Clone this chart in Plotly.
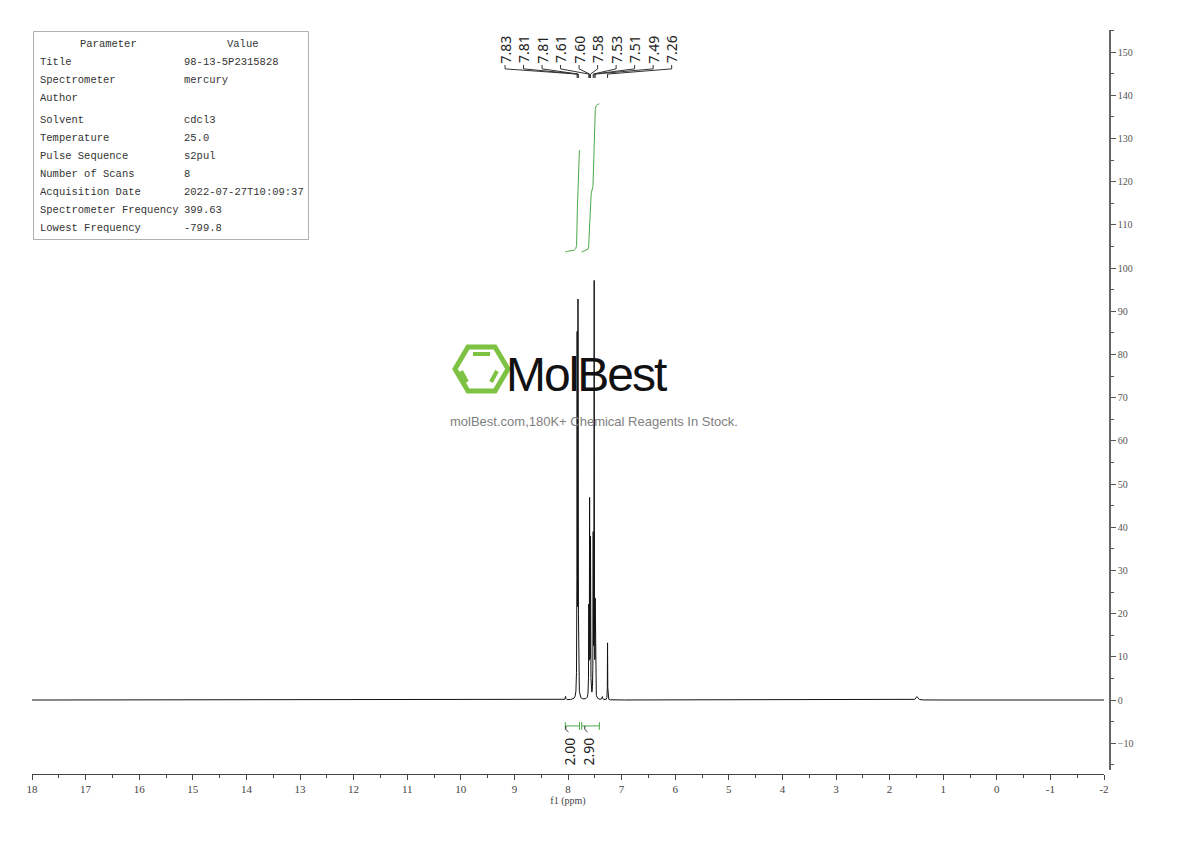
import numpy as np
import plotly.graph_objects as go

# ---------------- data ----------------
# spectrum peaks (ppm, apex height, half-width in ppm)
peak_ppm = [8.045, 7.830, 7.814, 7.808, 7.612, 7.597, 7.580, 7.530, 7.512, 7.493, 7.360, 7.262, 1.490]
peak_height = [0.8, 82.0, 86.0, 20.0, 20.0, 45.0, 36.0, 36.0, 95.5, 21.0, 0.7, 13.2, 0.8]
peak_hw = [0.006, 0.003, 0.003, 0.003, 0.003, 0.003, 0.003, 0.003, 0.003, 0.003, 0.006, 0.0025, 0.02]

# peak-pick labels and the peaks they point to
pick_labels = ["7.83", "7.81", "7.81", "7.61", "7.60", "7.58", "7.53", "7.51", "7.49", "7.26"]
pick_ppm = [7.830, 7.814, 7.808, 7.612, 7.597, 7.580, 7.530, 7.512, 7.493, 7.262]

# integrations: ranges (ppm), values, integral-curve base/top (intensity units)
int_start = [8.05, 7.745]
int_end = [7.785, 7.415]
int_values = ["2.00", "2.90"]
int_base = [103.7, 103.7]
int_top = [127.3, 138.0]

# x tick values
x_ticks = list(range(18, -3, -1))

# parameter table
param_names = ["Title", "Spectrometer", "Author", "Solvent", "Temperature", "Pulse Sequence",
               "Number of Scans", "Acquisition Date", "Spectrometer Frequency", "Lowest Frequency"]
param_values = ["98-13-5P2315828", "mercury", "", "cdcl3", "25.0", "s2pul", "8",
                "2022-07-27T10:09:37", "399.63", "-799.8"]

# ---------------- build spectrum from peak list ----------------
x = np.unique(np.concatenate([np.arange(-2.0, 18.0001, 0.005), np.arange(7.1, 8.2, 0.0004)]))[::-1]
y = np.zeros_like(x)
for p, h, w in zip(peak_ppm, peak_height, peak_hw):
    y += h / (1.0 + ((x - p) / w) ** 2)

# page offset of the plot div (body margin) compensated
OFF = 8
W, H = 1190 - OFF, 841 - OFF
SCR_L, SCR_R, SCR_T, SCR_B = 32, 1110, 30, 774   # plot area in screen pixels
ML, MT = SCR_L - OFF, SCR_T - OFF
MR, MB = (W + OFF) - SCR_R, (H + OFF) - SCR_B
PW, PH = SCR_R - SCR_L, SCR_B - SCR_T


def px(xs):
    return (xs - SCR_L) / PW


def py(ys):
    return (SCR_B - ys) / PH


fig = go.Figure()

fig.add_trace(go.Scatter(x=x, y=y, mode="lines", line=dict(color="#111", width=1),
                         hoverinfo="skip", showlegend=False))

# integral curves
for s, e, b, t in zip(int_start, int_end, int_base, int_top):
    m = (x <= s) & (x >= e)
    xs = x[m]
    cs = np.cumsum(y[m])
    ys = b + (t - b) * cs / cs[-1]
    fig.add_trace(go.Scatter(x=xs, y=ys, mode="lines", line=dict(color="#4aa84a", width=1),
                             hoverinfo="skip", showlegend=False))

# integration brackets
bx, by = [], []
for s, e in zip(int_start, int_end):
    bx += [s, e, None, s, s, None, e, e, None]
    by += [-6.0, -6.0, None, -5.1, -6.9, None, -5.1, -6.9, None]
fig.add_trace(go.Scatter(x=bx, y=by, mode="lines", line=dict(color="#4aa84a", width=1),
                         hoverinfo="skip", showlegend=False))

# integration labels (stems + text)
int_label_x = [7.981, 7.627]
sx, sy = [], []
for lx in int_label_x:
    mid = lx + 0.06
    sx += [mid, mid, lx + 0.01, None]
    sy += [-6.0, -6.8, -7.4, None]
fig.add_trace(go.Scatter(x=sx, y=sy, mode="lines", line=dict(color="#333", width=1),
                         hoverinfo="skip", showlegend=False))
for lx, v in zip(int_label_x, int_values):
    fig.add_annotation(x=lx, y=-11.9, xref="x", yref="y", text=v, showarrow=False,
                       textangle=-90, font=dict(family="Noto Sans, DejaVu Sans", size=14, color="#222"))

# peak-pick labels and connectors
n = len(pick_labels)
lab_left, lab_right = 9.175, 6.066
lab_x = [lab_left - i * (lab_left - lab_right) / (n - 1) for i in range(n)]
cx, cy = [], []
for lx, pp in zip(lab_x, pick_ppm):
    cx += [lx, lx, pp, pp, None]
    cy += [147.0, 146.1, 144.9, 144.0, None]
fig.add_trace(go.Scatter(x=cx, y=cy, mode="lines", line=dict(color="#333", width=1),
                         hoverinfo="skip", showlegend=False))
for lx, t in zip(lab_x, pick_labels):
    fig.add_annotation(x=lx, y=150.6, xref="x", yref="y", text=t, showarrow=False,
                       textangle=-90, font=dict(family="Noto Sans, DejaVu Sans", size=14, color="#222"))

# parameter table
tfont = dict(family="Liberation Mono, DejaVu Sans Mono, monospace", size=10.5, color="#333")
fig.add_shape(type="rect", xref="paper", yref="paper", x0=px(33.5), x1=px(308.5), y0=py(239.5), y1=py(31.5),
              line=dict(color="#b0b0b0", width=1), fillcolor="white", layer="above")
fig.add_annotation(x=px(108), y=py(43.8), xref="paper", yref="paper", text="Parameter", showarrow=False,
                   xanchor="center", yanchor="middle", font=tfont)
fig.add_annotation(x=px(243), y=py(43.8), xref="paper", yref="paper", text="Value", showarrow=False,
                   xanchor="center", yanchor="middle", font=tfont)
row_y = [61.6, 80.0, 97.8, 119.6, 137.7, 155.8, 174.0, 192.4, 210.2, 228.0]
for ry, nm, vl in zip(row_y, param_names, param_values):
    fig.add_annotation(x=px(38), y=py(ry), xref="paper", yref="paper", text=nm, showarrow=False,
                       xanchor="left", yanchor="middle", font=tfont)
    if vl:
        fig.add_annotation(x=px(182), y=py(ry), xref="paper", yref="paper", text=vl, showarrow=False,
                           xanchor="left", yanchor="middle", font=tfont)

# watermark logo
green = "#7dc242"
hexpts = [(455, 369), (468, 347), (495, 347), (508, 369), (495, 391), (468, 391)]
path = "M " + " L ".join(f"{px(a)},{py(b)}" for a, b in hexpts) + " Z"
fig.add_shape(type="path", xref="paper", yref="paper", path=path, line=dict(color=green, width=5), layer="below")
for (a0, b0, a1, b1) in [(473, 354, 490, 354), (461, 371, 467, 382), (497, 371, 491, 382)]:
    fig.add_shape(type="line", xref="paper", yref="paper", x0=px(a0), y0=py(b0), x1=px(a1), y1=py(b1),
                  line=dict(color=green, width=4), layer="below")
fig.add_annotation(x=px(586), y=py(374), xref="paper", yref="paper",
                   text='<span style="letter-spacing:-2px">MolBest</span>', showarrow=False,
                   xanchor="center", yanchor="middle",
                   font=dict(family="Liberation Sans Narrow, Liberation Sans, Arial", size=48, color="#111"))
fig.add_annotation(x=px(594), y=py(421), xref="paper", yref="paper",
                   text="molBest.com,180K+ Chemical Reagents In Stock.", showarrow=False,
                   xanchor="center", yanchor="middle",
                   font=dict(family="Liberation Sans, Arial", size=13, color="#808080"))

axfont = dict(family="Liberation Serif, DejaVu Serif", size=11, color="#444")
fig.update_layout(
    width=W, height=H, margin=dict(l=ML, r=MR, t=MT, b=MB),
    plot_bgcolor="white", paper_bgcolor="white", showlegend=False,
    xaxis=dict(range=[18, -2], domain=[0, (1104 - SCR_L) / PW], anchor="free", position=0,
               tickmode="array", tickvals=x_ticks, ticktext=[str(v) for v in x_ticks],
               ticks="outside", ticklen=5, tickcolor="#444", tickwidth=1,
               minor=dict(dtick=0.5, ticks="outside", ticklen=3, tickcolor="#444"),
               showline=True, linecolor="#444", linewidth=1.2, showgrid=False, zeroline=False,
               tickfont=axfont,
               title=dict(text="f1 (ppm)", font=dict(family="Liberation Serif, DejaVu Serif", size=10, color="#444"),
                          standoff=2)),
    yaxis=dict(range=[-16.2, 155.1], domain=[4 / PH, 1], side="right", anchor="free", position=1,
               tick0=0, dtick=10, ticks="outside", ticklen=5, tickcolor="#555",
               minor=dict(dtick=5, ticks="outside", ticklen=3, tickcolor="#555"),
               showline=True, linecolor="#666", linewidth=1.5, showgrid=False, zeroline=False,
               tickfont=dict(family="Liberation Serif, DejaVu Serif", size=10, color="#555")),
)

fig.write_html("out.html")
